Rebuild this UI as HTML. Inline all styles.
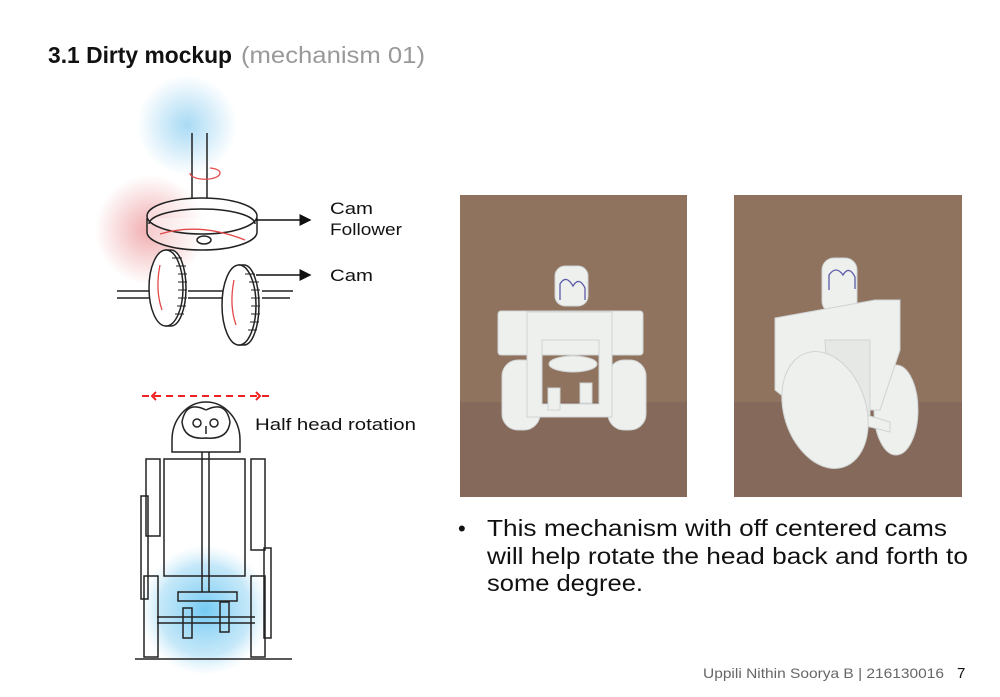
<!DOCTYPE html>
<html><head><meta charset="utf-8"><style>
body{margin:0;width:1000px;height:692px;background:#fff;overflow:hidden;font-family:"Liberation Sans",sans-serif;}
</style></head><body>
<svg width="1000" height="692" viewBox="0 0 1000 692" xmlns="http://www.w3.org/2000/svg" font-family="Liberation Sans, sans-serif">
<defs>
<radialGradient id="blue"><stop offset="0" stop-color="#9fd6f3" stop-opacity="0.9"/><stop offset="1" stop-color="#9fd6f3" stop-opacity="0"/></radialGradient>
<radialGradient id="red"><stop offset="0" stop-color="#ee9da0" stop-opacity="0.85"/><stop offset="1" stop-color="#ee9da0" stop-opacity="0"/></radialGradient>
<radialGradient id="blue2"><stop offset="0" stop-color="#6cc7f3" stop-opacity="0.95"/><stop offset="0.7" stop-color="#9fd9f5" stop-opacity="0.6"/><stop offset="1" stop-color="#bfe6f8" stop-opacity="0"/></radialGradient>
<marker id="ar" markerWidth="8" markerHeight="8" refX="7" refY="4" orient="auto"><path d="M0,0 L8,4 L0,8z" fill="#111"/></marker>
</defs>
<text x="48" y="63" font-size="23" font-weight="bold" fill="#111" textLength="184" lengthAdjust="spacingAndGlyphs">3.1 Dirty mockup</text>
<text x="241" y="63" font-size="23" fill="#999" textLength="184" lengthAdjust="spacingAndGlyphs">(mechanism 01)</text>

<!-- top sketch -->
<circle cx="187" cy="125" r="50" fill="url(#blue)"/>
<circle cx="150" cy="230" r="55" fill="url(#red)"/>
<g fill="none" stroke="#222" stroke-width="1.5">
<line x1="192" y1="133" x2="192" y2="198"/><line x1="207" y1="133" x2="207" y2="198"/>
<path d="M147,218 v14 a55,18 0 0 0 110,0 v-14" fill="#fff" fill-opacity="0.4"/>
<ellipse cx="202" cy="216" rx="55" ry="18" fill="#fff" fill-opacity="0.4"/>
<path d="M149,224 a53,15 0 0 1 106,0"/>
<ellipse cx="204" cy="240" rx="7" ry="4"/>
<line x1="117" y1="291" x2="160" y2="291"/><line x1="117" y1="298" x2="160" y2="298"/>
<line x1="188" y1="291" x2="238" y2="291"/><line x1="188" y1="298" x2="238" y2="298"/>
<line x1="262" y1="291" x2="293" y2="291"/><line x1="262" y1="298" x2="290" y2="298"/>
<path d="M165,250 h6 a15,38 0 0 1 0,76 h-6" fill="#fff"/>
<ellipse cx="166" cy="288" rx="17" ry="38" fill="#fff"/>
<path d="M238,265 h6 a15,40 0 0 1 0,80 h-6" fill="#fff"/>
<ellipse cx="239" cy="305" rx="17" ry="40" fill="#fff"/>
</g>
<g stroke="#222" stroke-width="1">
<path d="M172,258 h10 M176,266 h10 M178,274 h9 M178,282 h9 M178,290 h9 M178,298 h9 M177,306 h9 M175,314 h9"/>
<path d="M245,274 h10 M249,282 h10 M251,290 h9 M251,298 h9 M251,306 h9 M251,314 h9 M250,322 h9 M248,330 h9"/>
</g>
<g fill="none" stroke="#111" stroke-width="1.5">
<line x1="256" y1="220" x2="310" y2="220" marker-end="url(#ar)"/>
<line x1="256" y1="275" x2="310" y2="275" marker-end="url(#ar)"/>
</g>
<g fill="none" stroke="#e34a4a" stroke-width="1.3">
<path d="M190,173 a12,5 0 1 0 30,0 a12,5 0 0 0 -10,-5"/>
<path d="M160,234 q40,-12 85,6"/>
<path d="M160,265 q-5,25 2,45"/><path d="M234,280 q-5,25 2,45"/>
</g>
<text x="330" y="214" font-size="17" fill="#111" textLength="43" lengthAdjust="spacingAndGlyphs">Cam</text>
<text x="330" y="235" font-size="17" fill="#111" textLength="72" lengthAdjust="spacingAndGlyphs">Follower</text>
<text x="330" y="281" font-size="17" fill="#111" textLength="43" lengthAdjust="spacingAndGlyphs">Cam</text>

<!-- bottom sketch -->
<circle cx="205" cy="610" r="65" fill="url(#blue2)"/>
<path d="M142,396 h128" stroke="#e22" stroke-width="2" stroke-dasharray="7,5" fill="none"/>
<path d="M156,392 l-4,4 l4,4 M256,392 l4,4 l-4,4" stroke="#e22" stroke-width="2" fill="none"/>
<g fill="none" stroke="#222" stroke-width="1.5">
<path d="M172,452 v-12 a34,38 0 0 1 68,0 v12 z"/>
<path d="M206,410 q-20,-10 -24,12 q2,18 24,16 q22,2 24,-16 q-4,-22 -24,-12"/>
<circle cx="197" cy="423" r="4"/><circle cx="214" cy="423" r="4"/>
<path d="M206,426 v8"/>
<rect x="164" y="459" width="81" height="117"/>
<line x1="202" y1="452" x2="202" y2="592"/><line x1="209" y1="452" x2="209" y2="592"/>
<rect x="178" y="592" width="59" height="9"/>
<rect x="183" y="608" width="9" height="30"/><rect x="220" y="602" width="9" height="30"/>
<line x1="157" y1="617" x2="255" y2="617"/><line x1="157" y1="623" x2="255" y2="623"/>
<rect x="146" y="459" width="14" height="77"/>
<rect x="141" y="496" width="7" height="103"/>
<rect x="144" y="576" width="14" height="81"/>
<rect x="251" y="459" width="14" height="91"/>
<rect x="264" y="548" width="7" height="90"/>
<rect x="251" y="576" width="14" height="81"/>
<line x1="135" y1="659" x2="292" y2="659"/>
</g>
<text x="255" y="430" font-size="17" fill="#111" textLength="161" lengthAdjust="spacingAndGlyphs">Half head rotation</text>

<!-- photos -->
<g>
<rect x="460" y="195" width="227" height="302" fill="#8f735f"/>
<rect x="460" y="402" width="227" height="95" fill="#85695a"/>
<g fill="#eef0ee" stroke="#cfd3d3" stroke-width="1">
<rect x="498" y="311" width="145" height="44" rx="3"/>
<rect x="555" y="266" width="33" height="40" rx="10"/>
<rect x="502" y="360" width="38" height="70" rx="16"/>
<rect x="608" y="360" width="38" height="70" rx="16"/>
<path d="M527,312 h85 v105 h-85z M542,340 v64 h57 v-64z" fill-rule="evenodd"/>
<ellipse cx="573" cy="364" rx="24" ry="8"/>
<rect x="548" y="388" width="12" height="22"/><rect x="580" y="383" width="12" height="20"/>
</g>
<path d="M560,300 v-16 q6,-10 13,2 q6,-10 12,2 v12" fill="none" stroke="#5a5aa8" stroke-width="1.3"/>

<rect x="734" y="195" width="228" height="302" fill="#8f735f"/>
<rect x="734" y="402" width="228" height="95" fill="#85695a"/>
<g fill="#eef0ee" stroke="#cfd3d3" stroke-width="1">
<rect x="822" y="258" width="35" height="55" rx="12"/>
<ellipse cx="896" cy="410" rx="22" ry="45"/>
<path d="M775,318 l100,-18 l25,0 v50 l-20,60 h-80 l-25,-20z"/>
<path d="M825,340 h45 v80 h-40z" fill="#e6e8e6"/>
<path d="M850,410 l40,12 v10 l-40,-10z" fill="#eef0ee"/>
<ellipse cx="825" cy="410" rx="41" ry="60" transform="rotate(-18 825 410)"/>
</g>
<path d="M829,290 v-15 q7,-10 14,0 q6,-10 12,2 v12" fill="none" stroke="#5a5aa8" stroke-width="1.3"/>
</g>

<text x="458" y="536" font-size="22" fill="#111">•</text>
<text x="487" y="536" font-size="23" fill="#111" textLength="460" lengthAdjust="spacingAndGlyphs">This mechanism with off centered cams</text>
<text x="487" y="564" font-size="23" fill="#111" textLength="481" lengthAdjust="spacingAndGlyphs">will help rotate the head back and forth to</text>
<text x="487" y="591" font-size="23" fill="#111" textLength="156" lengthAdjust="spacingAndGlyphs">some degree.</text>
<text x="703" y="678" font-size="14" fill="#666" textLength="241" lengthAdjust="spacingAndGlyphs">Uppili Nithin Soorya B | 216130016</text>
<text x="957" y="678" font-size="15" fill="#111">7</text>
</svg>
</body></html>
